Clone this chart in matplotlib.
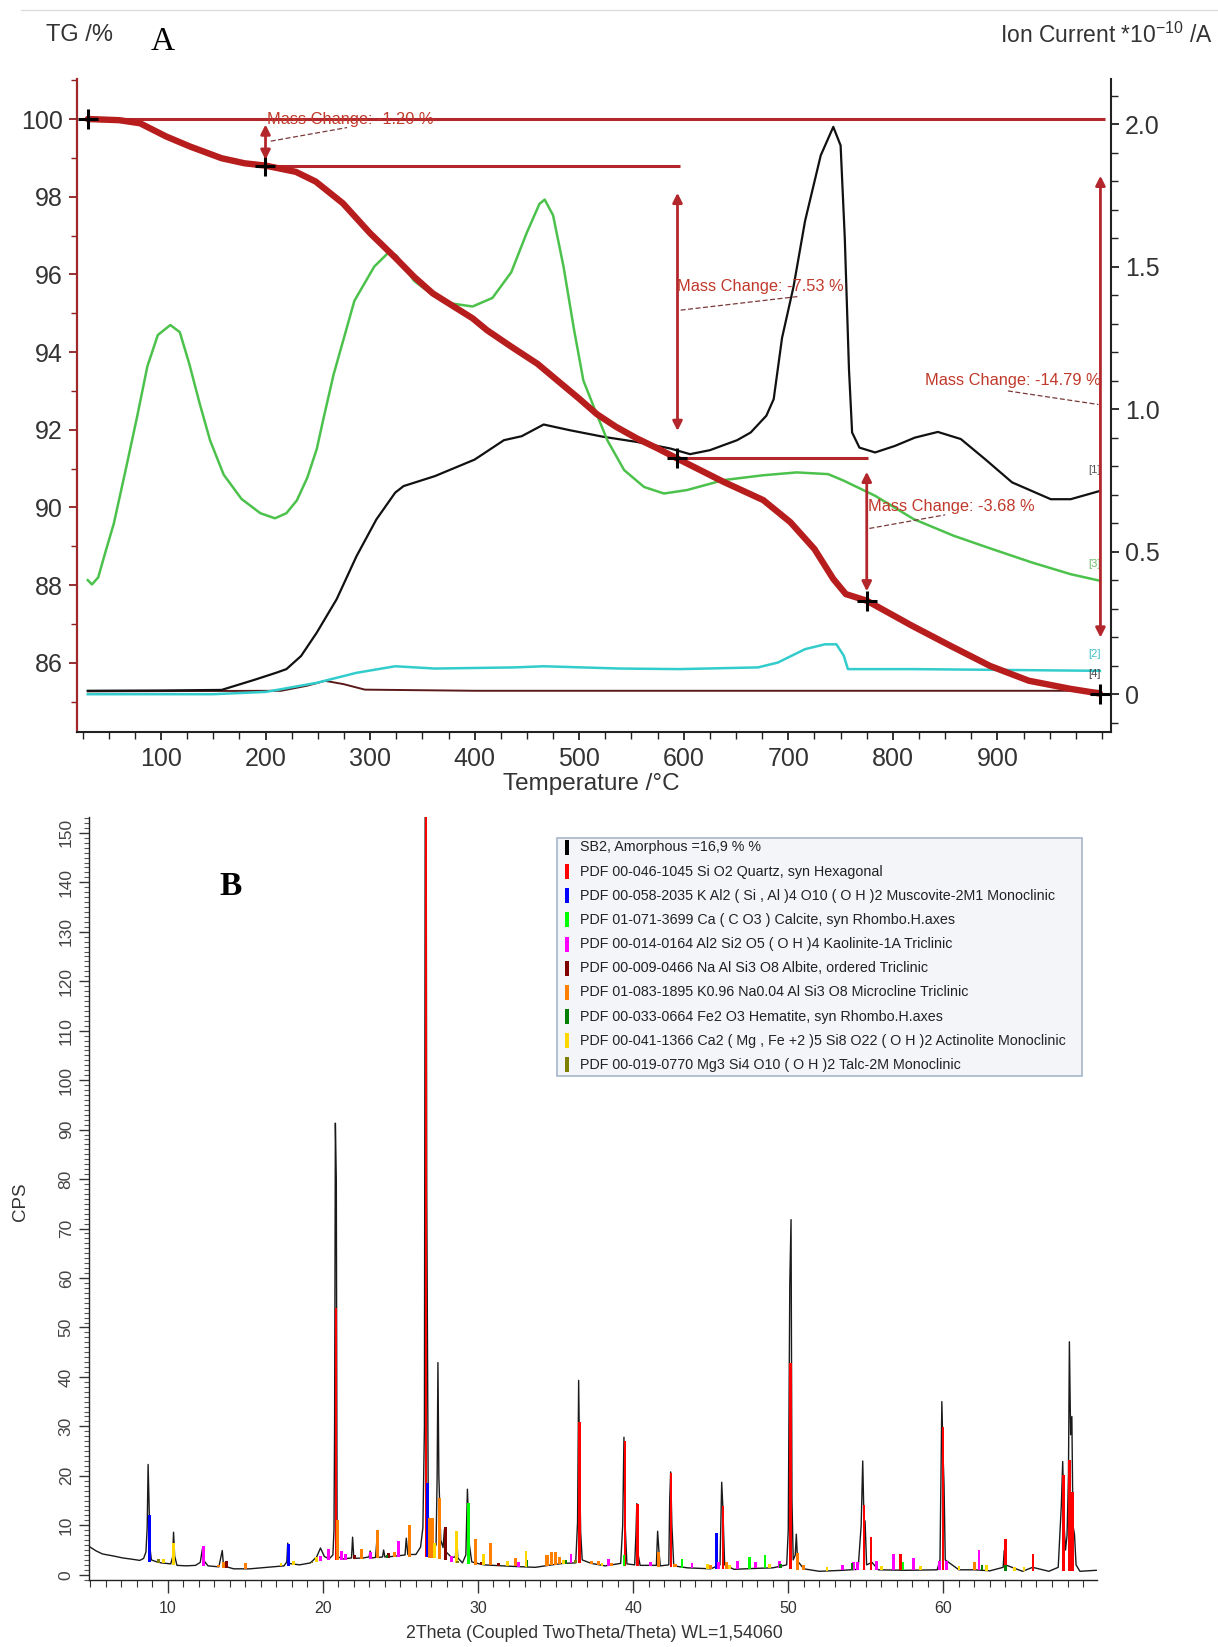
import numpy as np
import matplotlib
matplotlib.use("Agg")
import matplotlib.pyplot as plt
from matplotlib.patches import Rectangle
from matplotlib.lines import Line2D
from matplotlib.ticker import MultipleLocator

NARROW = ['Liberation Sans Narrow', 'Liberation Sans', 'DejaVu Sans']
SANS = ['Liberation Sans', 'DejaVu Sans']
SERIF = ['Liberation Serif', 'DejaVu Serif']

# ------------------------------------------------------------------
# Panel A : TG (left axis, %) and ion currents (right axis, 1e-10 A)
# ------------------------------------------------------------------
tg_temp = [30, 60, 80, 105, 128, 158, 180, 200, 229, 248, 274, 300, 323, 342, 360,
           398, 412, 435, 460, 480, 500, 517, 535, 555, 575, 593, 638, 676, 702,
           725, 743, 755, 775, 818, 855, 893, 930, 970, 998]
tg_mass = [100.0, 99.97, 99.89, 99.55, 99.29, 98.99, 98.86, 98.80, 98.64, 98.39, 97.83,
           97.06, 96.46, 95.94, 95.51, 94.87, 94.56, 94.14, 93.70, 93.25, 92.80, 92.40,
           92.08, 91.78, 91.52, 91.27, 90.66, 90.19, 89.62, 88.93, 88.16, 87.77, 87.60,
           86.96, 86.44, 85.92, 85.54, 85.33, 85.21]

# mass-change evaluation points
step_temp = [30, 199.4, 593.5, 775, 998]
step_mass = [100.0, 98.80, 91.27, 87.60, 85.21]
step_labels = ['Mass Change: -1.20 %', 'Mass Change: -7.53 %',
               'Mass Change: -3.68 %', 'Mass Change: -14.79 %']

# ion current traces (units of 1e-10 A)
ic1_temp = [30, 100, 158, 189, 210, 220, 234, 249, 268, 287, 306, 324, 332, 362, 400,
            428, 445, 466, 491, 523, 555, 587, 606, 625, 651, 664, 679, 686, 694, 705,
            716, 731, 743, 750, 754, 758, 761, 768, 783, 802, 821, 843, 865, 888, 914,
            951, 970, 998]
ic1_val = [0.012, 0.013, 0.015, 0.050, 0.075, 0.088, 0.134, 0.216, 0.333, 0.484, 0.613,
           0.707, 0.730, 0.765, 0.823, 0.891, 0.905, 0.946, 0.926, 0.903, 0.885, 0.862,
           0.842, 0.856, 0.891, 0.918, 0.977, 1.035, 1.25, 1.43, 1.66, 1.89, 1.99,
           1.925, 1.60, 1.14, 0.918, 0.865, 0.848, 0.871, 0.900, 0.920, 0.895, 0.825,
           0.743, 0.684, 0.684, 0.713]

ic3_temp = [30, 34, 40, 47, 55, 67, 77, 87, 97, 109, 118, 127, 137, 147, 160, 177, 195,
            209, 220, 230, 240, 249, 255, 265, 285, 304, 317, 325, 342, 360, 379, 398,
            417, 435, 450, 462, 467, 475, 485, 495, 504, 517, 527, 543, 562, 581, 603,
            638, 676, 708, 738, 753, 783, 820, 858, 895, 933, 970, 998]
ic3_val = [0.40, 0.385, 0.41, 0.50, 0.60, 0.80, 0.97, 1.15, 1.26, 1.295, 1.27, 1.16, 1.02,
           0.89, 0.77, 0.685, 0.635, 0.617, 0.635, 0.68, 0.76, 0.86, 0.96, 1.12, 1.38,
           1.50, 1.547, 1.54, 1.45, 1.40, 1.37, 1.36, 1.39, 1.48, 1.62, 1.72, 1.735,
           1.68, 1.50, 1.28, 1.10, 0.98, 0.89, 0.786, 0.727, 0.704, 0.716, 0.751, 0.768,
           0.778, 0.772, 0.749, 0.696, 0.614, 0.556, 0.509, 0.462, 0.421, 0.398]

ic2_temp = [30, 150, 200, 211, 249, 287, 324, 362, 438, 466, 539, 596, 671, 690, 716,
            735, 746, 753, 757, 820, 998]
ic2_val = [0.0, 0.0, 0.008, 0.015, 0.040, 0.075, 0.098, 0.090, 0.094, 0.098, 0.090,
           0.088, 0.094, 0.111, 0.158, 0.175, 0.175, 0.135, 0.088, 0.088, 0.082]

ic4_temp = [30, 215, 240, 257, 275, 295, 400, 600, 800, 998]
ic4_val = [0.010, 0.012, 0.030, 0.047, 0.035, 0.016, 0.012, 0.012, 0.012, 0.012]

curve_tags = ['[1]', '[3]', '[2]', '[4]']
curve_tag_val = [0.785, 0.457, 0.14, 0.07]

# ------------------------------------------------------------------
# Panel B : XRD pattern
# ------------------------------------------------------------------
xrd_2theta = [5.0, 5.4, 5.8, 6.5, 7.1, 7.8, 8.2, 8.45, 8.6, 8.68, 8.74, 8.80, 8.86, 8.95,
              9.3, 9.6, 10.2, 10.32, 10.38, 10.45, 10.6, 11.2, 11.8, 12.1, 12.25, 12.35,
              12.6, 13.3, 13.52, 13.6, 14.25, 15.3, 16.6, 17.5, 17.68, 17.74, 17.8, 18.5,
              19.2, 19.6, 19.85, 20.1, 20.4, 20.65, 20.72, 20.76, 20.81, 20.87, 20.92,
              21.0, 21.3, 21.85, 21.92, 22.0, 22.6, 22.98, 23.05, 23.15, 23.4, 23.47,
              23.55, 23.85, 23.92, 24.0, 24.5, 25.3, 25.38, 25.48, 26.0, 26.3, 26.45,
              26.55, 26.6, 26.66, 26.7, 26.8, 26.9, 27.1, 27.3, 27.37, 27.42, 27.48,
              27.6, 27.75, 27.84, 27.95, 28.3, 28.55, 28.62, 28.7, 29.0, 29.22, 29.32,
              29.45, 29.6, 30.1, 30.4, 31.0, 32.2, 33.7, 34.75, 35.5, 36.3, 36.42,
              36.49, 36.56, 36.62, 36.72, 37.3, 38.2, 39.2, 39.33, 39.41, 39.48, 39.6,
              40.1, 40.18, 40.24, 40.33, 40.45, 41.5, 41.58, 41.66, 41.75, 42.3, 42.36,
              42.42, 42.5, 42.62, 43.5, 45.0, 45.6, 45.71, 45.78, 45.9, 46.5, 48.0,
              49.0, 49.9, 50.0, 50.1, 50.18, 50.24, 50.32, 50.45, 50.52, 50.6, 51.0,
              52.0, 53.5, 54.5, 54.7, 54.8, 54.88, 54.95, 55.05, 55.4, 55.8, 57.6, 59.6,
              59.78, 59.84, 59.9, 59.97, 60.04, 60.12, 61.0, 62.0, 63.0, 63.85, 63.92,
              64.0, 65.1, 65.75, 66.8, 67.4, 67.6, 67.69, 67.78, 67.87, 67.97, 68.06,
              68.12, 68.2, 68.28, 68.35, 68.45, 68.55, 68.8, 69.85]
xrd_cps = [5.6, 4.8, 4.2, 3.8, 3.4, 3.1, 2.9, 3.3, 4.6, 9.5, 22.3, 14.5, 5.5, 3.0,
           2.6, 2.4, 2.2, 3.6, 8.6, 3.8, 1.9, 1.8, 1.9, 2.5, 5.4, 2.8,
           1.8, 1.6, 4.9, 1.8, 1.2, 1.2, 1.55, 1.8, 2.6, 6.4, 2.3, 2.0,
           2.4, 3.6, 5.4, 3.7, 3.2, 4.0, 9.0, 30.0, 91.3, 80.0, 10.0,
           3.6, 3.2, 3.4, 7.6, 3.3, 3.4, 3.6, 4.8, 3.4, 3.5, 6.4,
           3.5, 3.6, 5.0, 3.6, 3.7, 4.0, 7.4, 4.1, 4.1, 5.6, 9.5,
           30.0, 160.0, 160.0, 77.0, 12.0, 6.0, 5.2, 6.0, 20.0, 42.9, 20.0,
           7.0, 5.5, 9.2, 4.6, 3.5, 3.6, 8.5, 3.4, 2.4, 4.0, 17.3,
           6.0, 2.6, 2.2, 2.0, 1.9, 1.7, 1.5, 2.0, 2.3, 2.4, 10.6,
           39.3, 20.0, 8.6, 3.0, 2.3, 1.8, 2.3, 10.0, 27.8, 10.6, 2.2,
           2.0, 8.0, 14.4, 4.0, 1.9, 1.9, 8.8, 5.0, 1.8, 2.0, 15.2,
           20.8, 10.0, 1.8, 1.4, 1.2, 2.0, 18.7, 14.0, 2.0, 1.1, 1.3,
           1.4, 2.0, 9.0, 59.0, 71.8, 15.0, 3.0, 4.0, 8.2, 2.8, 1.2,
           0.7, 0.9, 1.1, 10.0, 23.0, 11.0, 10.9, 2.0, 2.5, 1.0, 0.9, 1.0,
           3.0, 19.0, 35.0, 25.0, 18.3, 3.0, 1.0, 1.0, 0.8, 1.5, 4.9,
           2.0, 0.7, 1.5, 0.7, 1.5, 14.0, 22.9, 10.0, 5.0, 8.0, 20.0,
           47.1, 28.3, 32.0, 10.0, 8.1, 2.0, 0.7, 0.9]

# background level read under the pattern (foot of the reference bars)
bg_2theta = [5.0, 5.8, 7.1, 8.4, 9.5, 10.6, 12.1, 13.2, 14.25, 15.3, 16.6, 17.9, 19.2,
             20.3, 21.8, 24.0, 25.7, 26.3, 27.8, 28.9, 30.4, 32.2, 33.7, 34.75, 36.3,
             38.2, 41.4, 43.5, 46.1, 48.9, 50.45, 52.0, 54.3, 55.8, 57.6, 59.7, 61.9,
             63.0, 65.1, 66.8, 68.8, 69.9]
bg_cps = [5.6, 4.0, 3.4, 2.8, 2.4, 1.9, 1.7, 1.55, 1.2, 1.2, 1.55, 1.9, 2.4, 2.9, 3.1,
          3.4, 3.7, 3.8, 3.0, 2.2, 2.0, 1.7, 1.5, 2.0, 2.4, 1.8, 1.7, 1.4, 1.1, 1.4, 1.1,
          0.7, 1.0, 1.0, 0.9, 1.0, 1.0, 0.8, 0.7, 0.7, 0.7, 0.9]

quartz_pos = [20.86, 26.64, 36.54, 39.47, 40.29, 42.45, 45.79, 50.14, 54.87, 55.33,
              57.24, 59.96, 63.99, 65.79, 67.74, 68.14, 68.32]
quartz_cps = [54.0, 160.0, 30.8, 27.1, 14.3, 20.6, 14.0, 42.9, 14.2, 7.6, 4.2, 29.8,
              7.2, 4.2, 20.1, 23.2, 16.8]
muscovite_pos = [8.84, 17.78, 26.76, 45.40]
muscovite_cps = [12.1, 6.3, 18.5, 8.4]
calcite_pos = [29.40, 39.40, 43.15, 47.50, 48.50, 57.40]
calcite_cps = [14.5, 3.9, 3.2, 3.6, 3.9, 2.5]
kaolinite_pos = [12.30, 19.85, 20.35, 21.20, 21.48, 23.05, 24.87, 28.27, 32.60, 36.00,
                 38.40, 41.10, 43.80, 45.50, 46.75, 47.90, 49.44, 53.50, 54.20, 54.45,
                 55.67, 56.77, 58.06, 59.75, 60.20, 62.30]
kaolinite_cps = [5.9, 3.8, 5.2, 4.85, 4.2, 4.6, 6.9, 3.7, 2.6, 4.2, 3.2, 2.6, 2.4, 2.6,
                 2.7, 2.5, 2.7, 2.0, 2.5, 2.5, 2.8, 4.2, 3.3, 2.7, 2.7, 5.05]
albite_pos = [13.80, 22.05, 24.25, 27.93, 30.20, 31.30, 35.00]
albite_cps = [2.8, 3.9, 4.4, 9.6, 2.6, 2.4, 2.4]
microcline_pos = [13.30, 13.60, 15.00, 20.94, 22.50, 23.50, 24.60, 25.58, 26.90, 27.05,
                  27.50, 29.85, 30.82, 32.40, 34.45, 34.75, 35.00, 35.25, 37.30, 37.77,
                  38.60, 41.66, 42.70, 45.00, 46.00, 50.60, 51.00, 62.00]
microcline_cps = [2.0, 2.6, 2.4, 11.1, 5.3, 9.1, 4.7, 10.1, 11.5, 11.5, 15.6, 7.2, 6.4,
                  3.4, 4.0, 4.7, 4.7, 3.5, 2.7, 2.7, 2.4, 4.5, 2.2, 2.0, 2.5, 4.4, 2.0, 2.6]
hematite_pos = [24.15, 33.15, 35.65, 49.50, 54.10, 62.50, 64.00]
hematite_cps = [3.9, 2.9, 3.0, 2.2, 2.3, 2.0, 2.0]
actinolite_pos = [9.72, 10.40, 17.30, 18.10, 19.58, 27.20, 28.60, 30.37, 31.90, 33.10,
                  35.50, 38.00, 44.80, 46.20, 48.80, 52.50, 56.00, 58.50, 61.00, 62.80,
                  64.60, 65.20]
actinolite_cps = [3.2, 6.4, 2.4, 2.7, 3.5, 6.4, 8.8, 4.2, 2.7, 4.85, 3.0, 2.3, 2.2, 2.0,
                  2.2, 1.6, 1.8, 1.8, 1.8, 2.0, 1.6, 1.6]
talc_pos = [9.40, 19.30, 28.70, 36.30]
talc_cps = [3.2, 2.6, 2.8, 2.9]

legend_labels = [
    'SB2, Amorphous =16,9 % %',
    'PDF 00-046-1045 Si O2 Quartz, syn Hexagonal',
    'PDF 00-058-2035 K Al2 ( Si , Al )4 O10 ( O H )2 Muscovite-2M1 Monoclinic',
    'PDF 01-071-3699 Ca ( C O3 ) Calcite, syn Rhombo.H.axes',
    'PDF 00-014-0164 Al2 Si2 O5 ( O H )4 Kaolinite-1A Triclinic',
    'PDF 00-009-0466 Na Al Si3 O8 Albite, ordered Triclinic',
    'PDF 01-083-1895 K0.96 Na0.04 Al Si3 O8 Microcline Triclinic',
    'PDF 00-033-0664 Fe2 O3 Hematite, syn Rhombo.H.axes',
    'PDF 00-041-1366 Ca2 ( Mg , Fe +2 )5 Si8 O22 ( O H )2 Actinolite Monoclinic',
    'PDF 00-019-0770 Mg3 Si4 O10 ( O H )2 Talc-2M Monoclinic',
]
legend_colors = ['#000000', '#FF0000', '#0000FF', '#00FF00', '#FF00FF', '#800000',
                 '#FF8000', '#008000', '#FFD700', '#808000']

# ------------------------------------------------------------------
W, H = 1218, 1647
fig = plt.figure(figsize=(W / 100, H / 100), dpi=100)
fig.patch.set_facecolor('white')


def fx(px):
    return px / W


def fy(py):
    return 1 - py / H


TG_RED = '#B81D1D'
LINE_RED = '#B3262B'
TXT = '#333333'

# ---------------- panel A ----------------
axA = fig.add_axes([fx(77), fy(732), fx(1111) - fx(77), fy(79) - fy(732)])
axI = axA.twinx()
axA.set_zorder(axI.get_zorder() + 1)
axA.patch.set_visible(False)

axA.set_xlim(19.7, 1008.6)
axA.set_ylim(84.22, 101.03)
axI.set_ylim(-0.1326, 2.158)

axI.plot(ic4_temp, ic4_val, color='#5a1a1a', lw=1.4)
axI.plot(ic2_temp, ic2_val, color='#33CCCC', lw=1.8)
axI.plot(ic1_temp, ic1_val, color='#111111', lw=1.6)
axI.plot(ic3_temp, ic3_val, color='#4CC24C', lw=1.8)
tag_colors = ['#555555', '#6BBF6B', '#40C0C8', '#444444']
for tag, v, c in zip(curve_tags, curve_tag_val, tag_colors):
    axI.text(999, v, tag, fontsize=8, color=c, ha='right', va='center', family=NARROW)

# horizontal evaluation lines
axA.hlines(step_mass[0], step_temp[0], 1003, color=LINE_RED, lw=2.2)
axA.hlines(step_mass[1], step_temp[1], 596, color=LINE_RED, lw=2.2)
axA.hlines(step_mass[2], step_temp[2], 776, color=LINE_RED, lw=2.2)

axA.plot(tg_temp, tg_mass, color=TG_RED, lw=4.6, solid_capstyle='round',
         solid_joinstyle='round')
axA.plot(step_temp, step_mass, ls='none', marker='+', ms=14, mew=2.2, color='black')

arrow_T = [200, 594, 775, 998.5]
arrow_top = [99.86, 98.10, 90.92, 98.54]
arrow_bot = [98.95, 91.97, 87.84, 86.65]
for t, a, b in zip(arrow_T, arrow_top, arrow_bot):
    axA.annotate('', xy=(t, a), xytext=(t, b),
                 arrowprops=dict(arrowstyle='<|-|>', color=LINE_RED, lw=2,
                                 mutation_scale=14, shrinkA=0, shrinkB=0))

# mass-change labels with dashed leaders
lab_xy = [(201, 100.0), (594, 95.68), (776.5, 90.03), (998.6, 93.27)]
lab_ha = ['left', 'left', 'left', 'right']
lead = [((205, 99.43), (278, 99.78)), ((597, 95.08), (709, 95.43)),
        ((777.5, 89.46), (850, 89.81)), ((910, 93.0), (996.6, 92.65))]
for i in range(4):
    axA.text(lab_xy[i][0], lab_xy[i][1], step_labels[i], color='#C0392B',
             fontsize=11.8, ha=lab_ha[i], va='center', family=NARROW, zorder=6)
    (x0, y0), (x1, y1) = lead[i]
    axA.plot([x0, x1], [y0, y1], ls=(0, (4, 2)), color='#7a3a3a', lw=0.9)

# axes styling
for s in ['top', 'right']:
    axA.spines[s].set_visible(False)
for s in ['top', 'left', 'bottom']:
    axI.spines[s].set_visible(False)
axA.spines['left'].set_color('#A0282A')
axA.spines['left'].set_linewidth(1.6)
axA.spines['bottom'].set_color('#222222')
axA.spines['bottom'].set_linewidth(1.5)
axI.spines['right'].set_color('#222222')
axI.spines['right'].set_linewidth(1.5)

axA.xaxis.set_minor_locator(MultipleLocator(25))
axA.yaxis.set_minor_locator(MultipleLocator(1))
axA.set_yticks(np.arange(86, 101, 2))
axA.set_xticks(np.arange(100, 1000, 100))
axI.set_yticks([0, 0.5, 1.0, 1.5, 2.0])
axI.set_yticklabels(['0', '0.5', '1.0', '1.5', '2.0'])
axI.yaxis.set_minor_locator(MultipleLocator(0.1))

axA.tick_params(axis='y', which='both', colors='#8B2020', labelcolor=TXT,
                labelsize=18, direction='out', pad=4)
axA.tick_params(axis='y', which='major', length=6, width=1.3)
axA.tick_params(axis='y', which='minor', length=4, width=1.0)
axA.tick_params(axis='x', which='both', colors='#222222', labelcolor=TXT,
                labelsize=18, direction='out', pad=5)
axA.tick_params(axis='x', which='major', length=6, width=1.3)
axA.tick_params(axis='x', which='minor', length=5, width=1.0)
axI.tick_params(axis='y', which='both', colors='#222222', labelcolor=TXT,
                labelsize=18, direction='out', pad=4)
axI.tick_params(axis='y', which='major', length=6, width=1.3)
axI.tick_params(axis='y', which='minor', length=5, width=1.0)
for lab in axA.get_xticklabels() + axA.get_yticklabels() + axI.get_yticklabels():
    lab.set_family(NARROW)

fig.text(fx(46), fy(35), 'TG /%', fontsize=17, color=TXT, ha='left', va='center',
         family=NARROW)
fig.text(fx(163), fy(42), 'A', fontsize=24, color='black', ha='center', va='center',
         family=SERIF)
fig.text(fx(1213), fy(35), 'Ion Current *10$^{\\mathregular{-10}}$ /A', fontsize=16.5,
         color=TXT, ha='right', va='center', family=NARROW)
fig.text(fx(591), fy(784), 'Temperature /\u00b0C', fontsize=17.5, color=TXT,
         ha='center', va='center', family=NARROW)
fig.add_artist(Line2D([fx(21), fx(1218)], [fy(10), fy(10)], color='#DDDDDD', lw=1))

# ---------------- panel B ----------------
axB = fig.add_axes([fx(89), fy(1580), fx(1097) - fx(89), fy(817) - fy(1580)])
axB.set_xlim(4.93, 69.9)
axB.set_ylim(-1.06, 153.2)

axB.plot(xrd_2theta, xrd_cps, color='#1a1a1a', lw=1.0, zorder=2)

phase_sets = [
    (quartz_pos, quartz_cps, legend_colors[1], 0.16),
    (muscovite_pos, muscovite_cps, legend_colors[2], 0.18),
    (calcite_pos, calcite_cps, legend_colors[3], 0.16),
    (kaolinite_pos, kaolinite_cps, legend_colors[4], 0.18),
    (albite_pos, albite_cps, legend_colors[5], 0.2),
    (microcline_pos, microcline_cps, legend_colors[6], 0.2),
    (hematite_pos, hematite_cps, legend_colors[7], 0.16),
    (actinolite_pos, actinolite_cps, legend_colors[8], 0.18),
    (talc_pos, talc_cps, legend_colors[9], 0.18),
]
for pos, top, col, wd in phase_sets:
    pos = np.asarray(pos)
    top = np.asarray(top)
    base = np.interp(pos, bg_2theta, bg_cps)
    axB.bar(pos, top - base, bottom=base, width=wd, color=col, linewidth=0, zorder=3)

for s in ['top', 'right']:
    axB.spines[s].set_visible(False)
axB.spines['left'].set_color('#222222')
axB.spines['bottom'].set_color('#222222')
axB.spines['left'].set_linewidth(1.0)
axB.spines['bottom'].set_linewidth(1.0)
axB.set_yticks(np.arange(0, 151, 10))
axB.yaxis.set_minor_locator(MultipleLocator(1))
axB.set_xticks(np.arange(10, 61, 10))
axB.xaxis.set_minor_locator(MultipleLocator(1))
axB.tick_params(axis='y', which='major', length=7, width=1.0, labelsize=12.5,
                labelcolor='#444444', colors='#333333', pad=4, labelrotation=90)
axB.tick_params(axis='y', which='minor', length=3.5, width=0.8, colors='#555555')
axB.tick_params(axis='x', which='major', length=9, width=1.0, labelsize=11.5,
                labelcolor=TXT, colors='#333333', pad=6)
axB.tick_params(axis='x', which='minor', length=5, width=0.8, colors='#333333')
for lab in axB.get_yticklabels():
    lab.set_family(NARROW)
    lab.set_va('center')
for lab in axB.get_xticklabels():
    lab.set_family(NARROW)

fig.text(fx(21), fy(1202), 'CPS', fontsize=13.5, rotation=90, color=TXT, ha='center',
         va='center', family=SANS)
fig.text(fx(594), fy(1634), '2Theta (Coupled TwoTheta/Theta) WL=1,54060', fontsize=12.8,
         color=TXT, ha='center', va='center', family=NARROW)
fig.text(fx(231), fy(887), 'B', fontsize=24, color='black', ha='center', va='center',
         family=SERIF, fontweight='bold')

# legend box
fig.add_artist(Rectangle((fx(556.5), fy(1076)), fx(1081.5) - fx(556.5), fy(838) - fy(1076),
                         transform=fig.transFigure, facecolor='#F3F5F8',
                         edgecolor='#A7B6CA', lw=1.2))
for i, (lab, col) in enumerate(zip(legend_labels, legend_colors)):
    yc = 847.5 + 24.15 * i
    fig.add_artist(Rectangle((fx(565), fy(yc + 7.5)), fx(4), fy(0) - fy(15),
                             transform=fig.transFigure, facecolor=col, edgecolor='none'))
    fig.text(fx(580.5), fy(yc), lab, fontsize=10.3, color='#222222', ha='left',
             va='center', family=NARROW)

fig.savefig('out.png', dpi=100)
